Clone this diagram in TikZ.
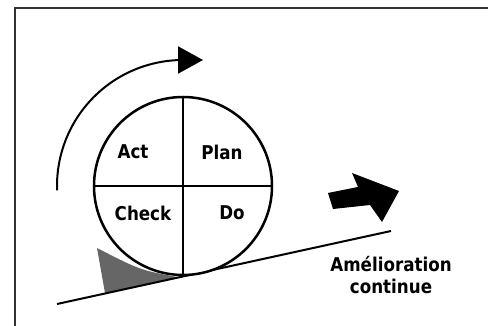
\documentclass[tikz,border=0pt]{standalone}
\usepackage{fontspec}
\setmainfont{DejaVu Sans}[FakeStretch=0.88]
\usetikzlibrary{arrows.meta}

\begin{document}
\begin{tikzpicture}[x=1pt,y=-1pt,line width=2pt,every node/.style={inner sep=0pt},
	phase/.style={font=\bfseries\fontsize{19}{22}\selectfont,align=center}]
	\useasboundingbox (0,0) rectangle (488,326);
	% frame
	\draw[line width=1.5pt,black!80] (15,326) -- (15,8) -- (488,8);
	% chock under the wheel
	\fill[black!60] (97,248) -- (105,293) -- (177,277) .. controls (140,270) .. cycle;
	% slope
	\coordinate (slopeA) at (57,304);
	\coordinate (slopeB) at (391,231);
	\draw (slopeA) -- (slopeB);
	% wheel
	\node[circle,draw,line width=2.5pt,minimum size=178pt,fill=white] (wheel) at (183,186) {};
	\draw[line width=2.5pt] (wheel.north) -- (wheel.south);
	\draw[line width=2.5pt] (wheel.west) -- (wheel.east);
	\node[phase] (act) at (133,152) {Act};
	\node[phase] (plan) at (222,152) {Plan};
	\node[phase] (check) at (143,213) {Check};
	\node[phase] (do) at (232,213) {Do};
	% rotation
	\draw[-{Triangle[length=25pt,width=27pt]}] (wheel.center) ++(178:126) arc[start angle=178,end angle=270,radius=126] -- ++(20,0);
	% progress arrow
	\fill (328,193) -- (358,187) -- (352,173) -- (399,191) -- (382,222) -- (370,205) -- (333,209) -- cycle;
	\node[phase] (gain) at (391,275) {Amélioration\\continue};
\end{tikzpicture}
\end{document}
